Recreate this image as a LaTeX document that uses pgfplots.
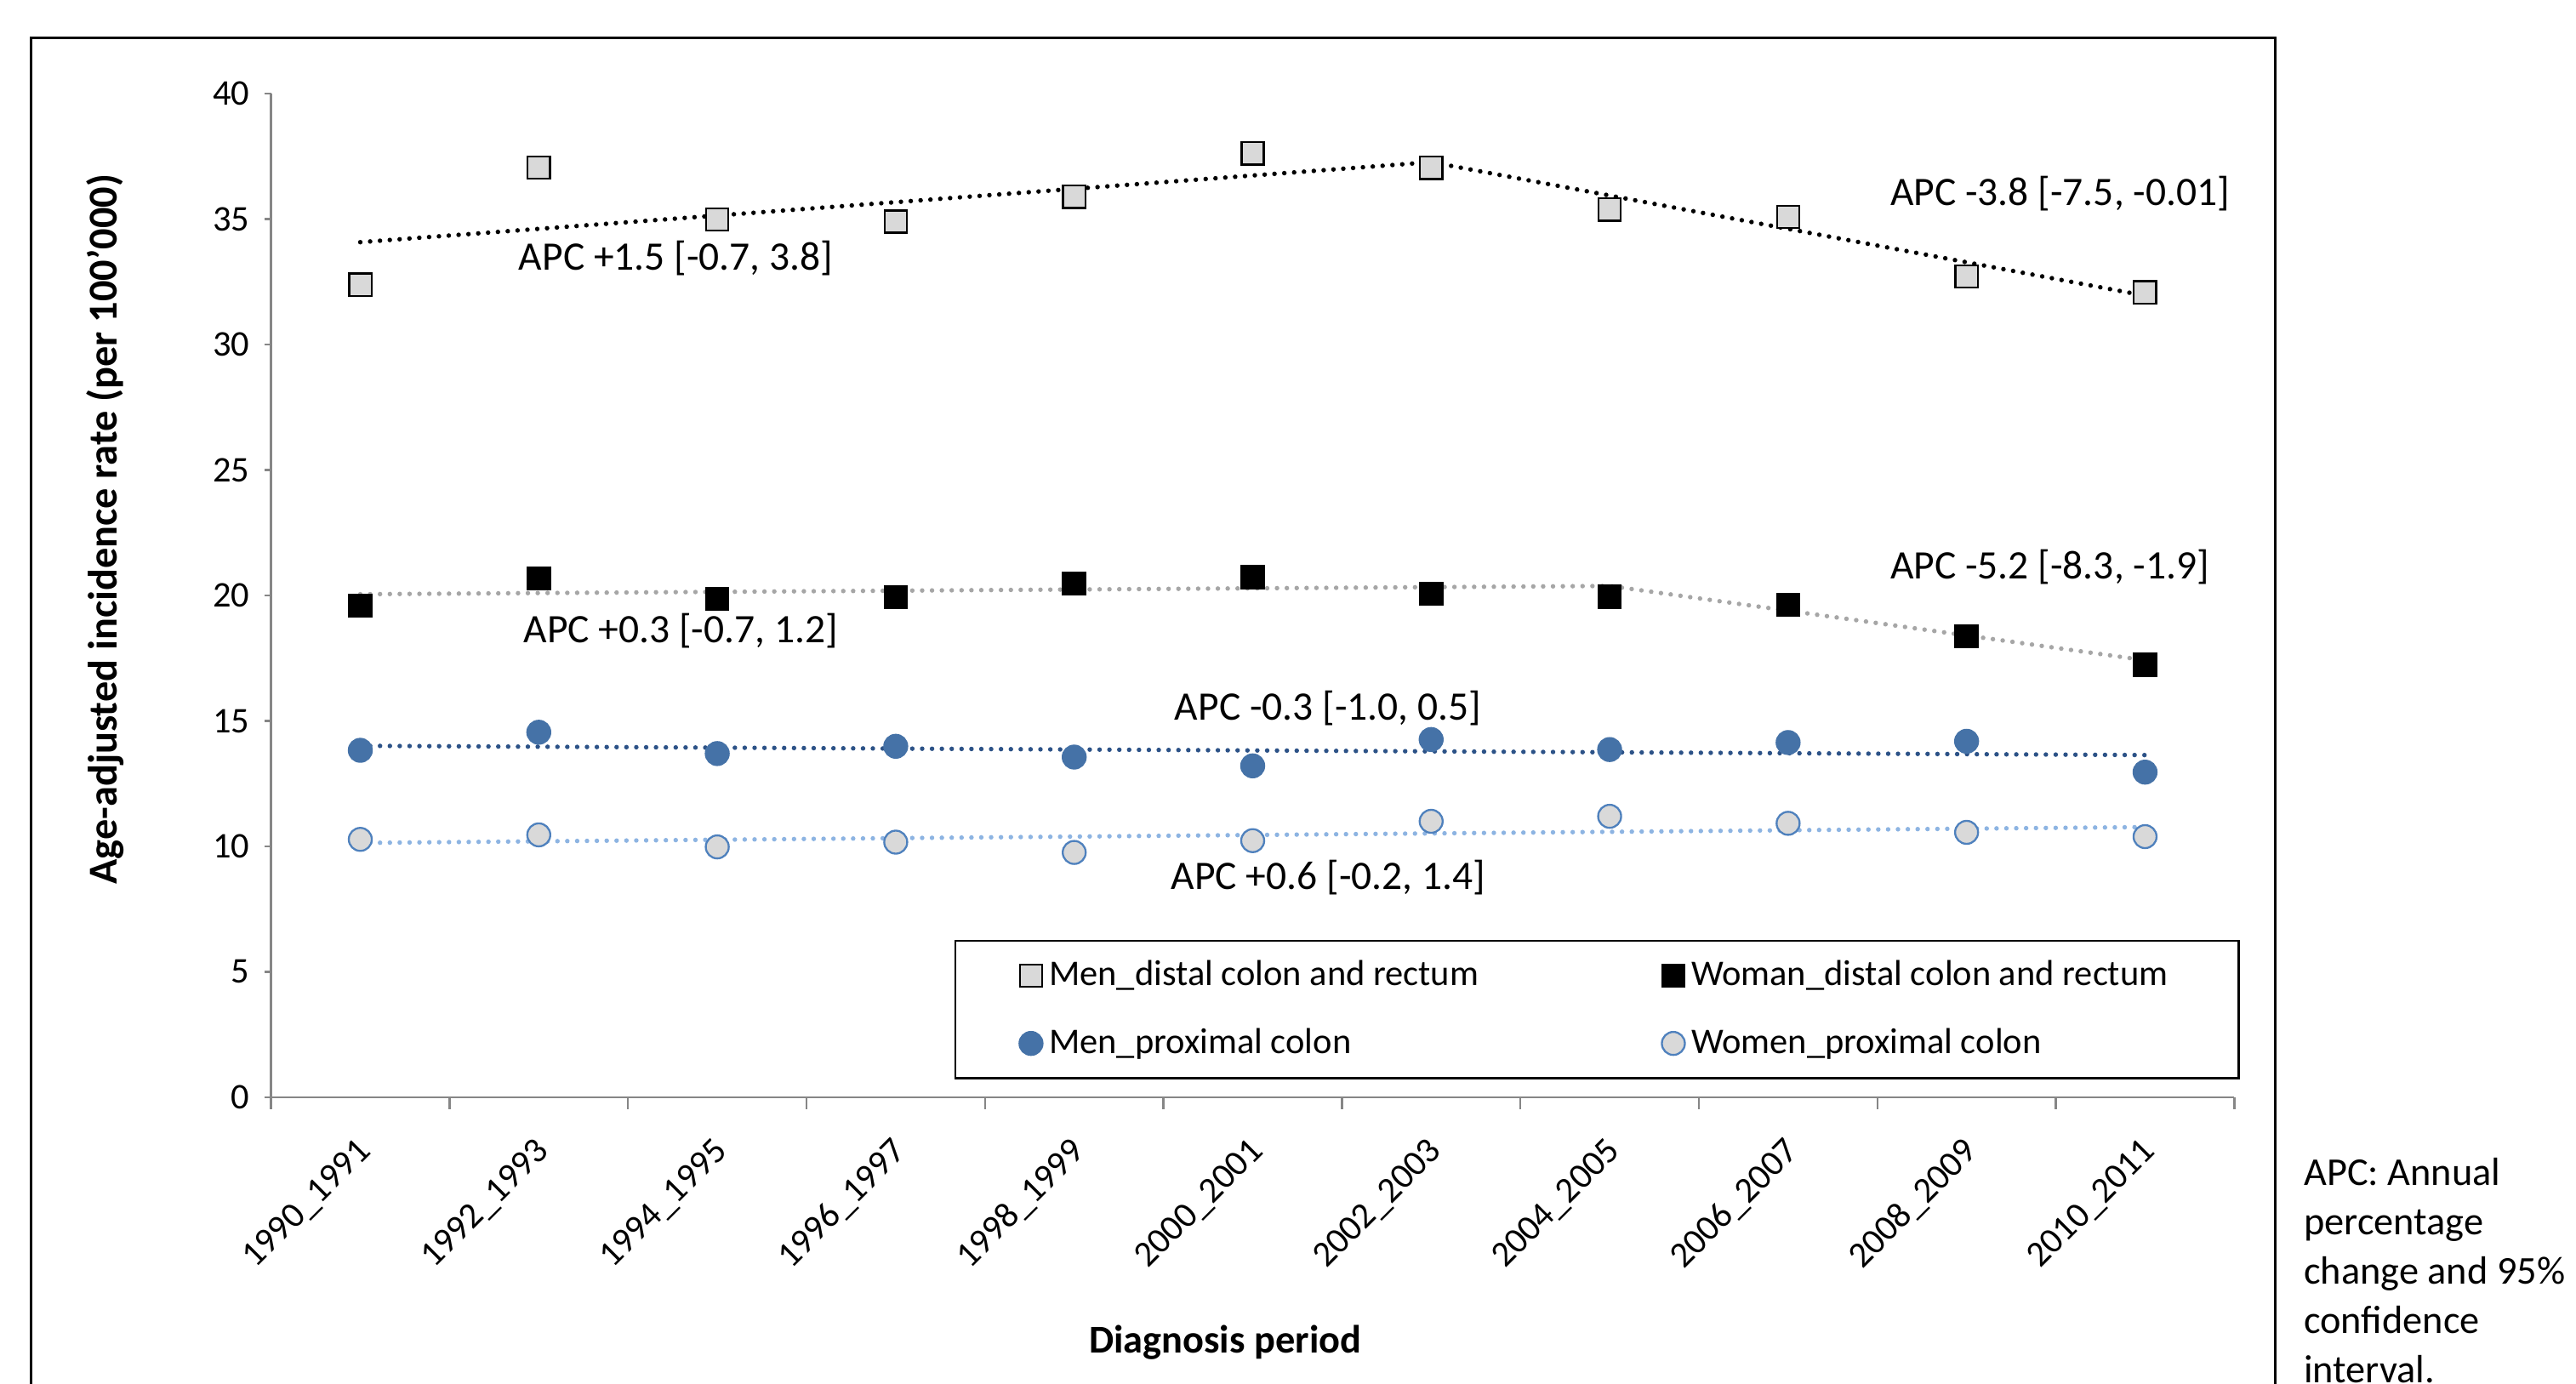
\documentclass[border=0pt]{standalone}
\usepackage{fontspec}
\setmainfont{Carlito}
\usepackage{pgfplots}
\pgfplotsset{compat=1.18}
\definecolor{axgray}{RGB}{134,134,134}
\definecolor{sqgray}{RGB}{217,217,217}
\definecolor{mblue}{RGB}{69,114,167}
\definecolor{oblue}{RGB}{79,129,189}
\definecolor{tblue}{RGB}{44,82,135}
\definecolor{lblue}{RGB}{141,180,226}
\definecolor{tgray}{RGB}{166,166,166}
\begin{document}
\begin{tikzpicture}
\path[use as bounding box] (-82.5pt,-87pt) rectangle (701.5pt,334pt);
\draw[line width=0.7pt] (-73pt,-140pt) -- (-73pt,322.5pt) -- (610pt,322.5pt) -- (610pt,-140pt);
\begin{axis}[
  at={(0,0)}, anchor=south west,
  scale only axis, width=597.5pt, height=305.5pt,
  xmin=-0.5, xmax=10.5, ymin=0, ymax=40,
  axis lines*=left,
  axis line style={draw=axgray, line width=0.6pt},
  tick align=outside,
  xtick={0,1,2,3,4,5,6,7,8,9,10},
  xticklabels={1990\_1991,1992\_1993,1994\_1995,1996\_1997,1998\_1999,2000\_2001,2002\_2003,2004\_2005,2006\_2007,2008\_2009,2010\_2011},
  minor xtick={-0.5,0.5,1.5,2.5,3.5,4.5,5.5,6.5,7.5,8.5,9.5,10.5},
  tick style={draw=axgray, line width=0.6pt},
  major x tick style={draw=none},
  minor tick length=3.5pt,
  major tick length=2pt,
  ytick={0,5,10,15,20,25,30,35,40},
  /pgf/number format/assume math mode=true,
  ticklabel style={font=\fontsize{11}{13}\selectfont},
  xticklabel style={rotate=45, anchor=east, inner sep=0pt, xshift=-7.8pt, yshift=-10.2pt},
  yticklabel style={xshift=-1pt},
  xlabel={Diagnosis period},
  ylabel={Age-adjusted incidence rate (per 100'000)},
  label style={font=\bfseries\fontsize{12}{14}\selectfont},
  xlabel style={at={(axis description cs:0.486,-0.244)}, anchor=center},
  ylabel style={at={(axis description cs:-0.0845,0.566)}, anchor=center, font=\bfseries\fontsize{12.5}{14}\selectfont},
  legend columns=2,
  legend cell align=left,
  legend image code/.code={\draw[mark repeat=2,mark phase=2,#1] plot coordinates {(0pt,0pt)(4pt,0pt)(8pt,0pt)};},
  legend style={at={(rel axis cs:0.348,0.157)}, anchor=north west, draw=black, line width=0.7pt,
    inner xsep=19.5pt, inner ysep=4pt, row sep=7.5pt, font=\fontsize{11}{13}\selectfont},
]
% trend lines
\addplot[forget plot, black, line width=1.4pt, line cap=round, dash pattern=on 0pt off 3pt] coordinates {(0,34.08) (6,37.27) (10,31.95)};
\addplot[forget plot, tgray, line width=1.4pt, line cap=round, dash pattern=on 0pt off 3pt] coordinates {(0,20.05) (7,20.38) (10,17.42)};
\addplot[forget plot, tblue, line width=1.4pt, line cap=round, dash pattern=on 0pt off 3pt] coordinates {(0,14.01) (10,13.64)};
\addplot[forget plot, lblue, line width=1.4pt, line cap=round, dash pattern=on 0pt off 3pt] coordinates {(0,10.14) (10,10.77)};
% data
\addplot[only marks, mark=square*, mark size=3.4pt, mark options={fill=sqgray, draw=black, line width=0.6pt}] coordinates {
(0,32.39) (1,37.05) (2,34.99) (3,34.90) (4,35.89) (5,37.62) (6,37.04) (7,35.38) (8,35.09) (9,32.72) (10,32.08)};
\addlegendentry{\makebox[184.5pt][l]{Men\_distal colon and rectum}}
\addplot[only marks, mark=square*, mark size=3.4pt, mark options={fill=black, draw=black, line width=0.6pt}] coordinates {
(0,19.59) (1,20.68) (2,19.87) (3,19.93) (4,20.48) (5,20.74) (6,20.07) (7,19.96) (8,19.63) (9,18.37) (10,17.24)};
\addlegendentry{Woman\_distal colon and rectum}
\addplot[only marks, mark=*, mark size=3.5pt, mark options={fill=mblue, draw=mblue, line width=0.6pt}] coordinates {
(0,13.83) (1,14.55) (2,13.70) (3,13.99) (4,13.56) (5,13.21) (6,14.26) (7,13.86) (8,14.14) (9,14.19) (10,12.96)};
\addlegendentry{Men\_proximal colon}
\addplot[only marks, mark=*, mark size=3.5pt, mark options={fill=sqgray, draw=oblue, line width=0.6pt}] coordinates {
(0,10.28) (1,10.46) (2,9.98) (3,10.17) (4,9.76) (5,10.23) (6,11.00) (7,11.20) (8,10.92) (9,10.56) (10,10.39)};
\addlegendentry{Women\_proximal colon}
% annotations
\node[anchor=west, inner sep=0pt, font=\fontsize{12.3}{14}\selectfont] at (axis cs:0.885,33.45) {APC +1.5 [-0.7, 3.8]};
\node[anchor=west, inner sep=0pt, font=\fontsize{12.3}{14}\selectfont] at (axis cs:8.57,36.0) {APC -3.8 [-7.5, -0.01]};
\node[anchor=west, inner sep=0pt, font=\fontsize{12.3}{14}\selectfont] at (axis cs:8.57,21.15) {APC -5.2 [-8.3, -1.9]};
\node[anchor=west, inner sep=0pt, font=\fontsize{12.3}{14}\selectfont] at (axis cs:0.912,18.6) {APC +0.3 [-0.7, 1.2]};
\node[anchor=west, inner sep=0pt, font=\fontsize{12.3}{14}\selectfont] at (axis cs:4.56,15.5) {APC -0.3 [-1.0, 0.5]};
\node[anchor=west, inner sep=0pt, font=\fontsize{12.3}{14}\selectfont] at (axis cs:4.54,8.77) {APC +0.6 [-0.2, 1.4]};
\end{axis}
\node[anchor=north west, align=left, inner sep=0pt, font=\fontsize{12}{15}\selectfont] at (618.5pt,-18.3pt) {APC: Annual\\percentage\\change and 95\%\\confidence\\interval.};
\end{tikzpicture}
\end{document}
